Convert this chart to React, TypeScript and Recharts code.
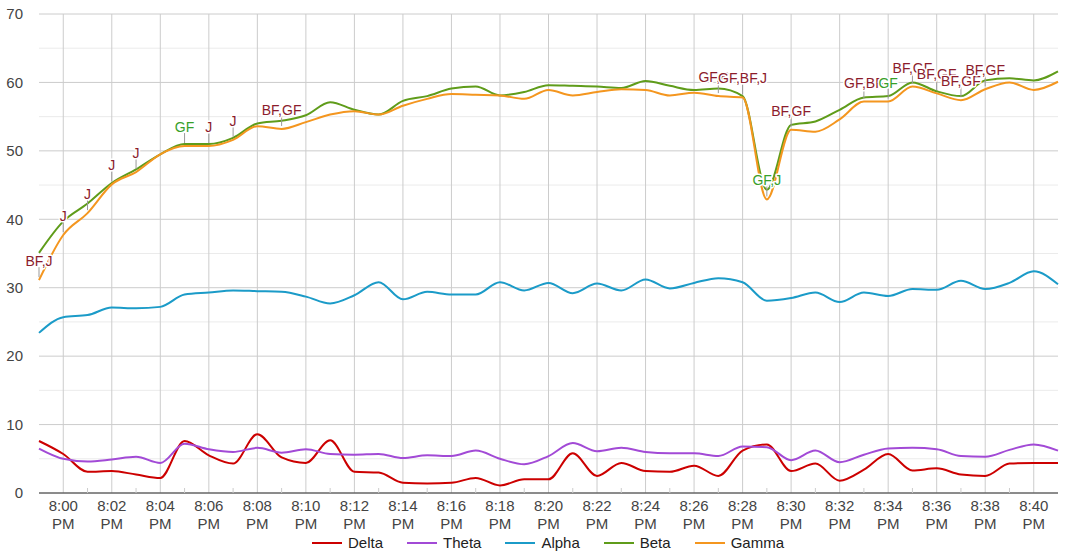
import { LineChart, Line, XAxis, YAxis, CartesianGrid, ReferenceLine, LabelList } from 'recharts';

const times = [
  '7:59 PM', '8:00 PM', '8:01 PM', '8:02 PM', '8:03 PM', '8:04 PM', '8:05 PM', '8:06 PM', '8:07 PM',
  '8:08 PM', '8:09 PM', '8:10 PM', '8:11 PM', '8:12 PM', '8:13 PM', '8:14 PM', '8:15 PM', '8:16 PM',
  '8:17 PM', '8:18 PM', '8:19 PM', '8:20 PM', '8:21 PM', '8:22 PM', '8:23 PM', '8:24 PM', '8:25 PM',
  '8:26 PM', '8:27 PM', '8:28 PM', '8:29 PM', '8:30 PM', '8:31 PM', '8:32 PM', '8:33 PM', '8:34 PM',
  '8:35 PM', '8:36 PM', '8:37 PM', '8:38 PM', '8:39 PM', '8:40 PM', '8:41 PM',
];

const delta = [7.6, 5.7, 3.1, 3.2, 2.7, 2.2, 7.6, 5.5, 4.3, 8.6, 5.2, 4.4, 7.7, 3.1, 3.0, 1.5, 1.4, 1.5, 2.2, 1.1, 2.0, 2.0, 5.8, 2.5, 4.4, 3.2, 3.1, 4.0, 2.5, 6.2, 7.1, 3.2, 4.3, 1.8, 3.4, 5.7, 3.3, 3.6, 2.7, 2.5, 4.3, 4.4, 4.4];
const theta = [6.5, 5.0, 4.6, 4.9, 5.3, 4.4, 7.2, 6.4, 6.0, 6.6, 5.9, 6.4, 5.7, 5.6, 5.7, 5.1, 5.5, 5.4, 6.2, 5.0, 4.2, 5.4, 7.3, 6.1, 6.6, 6.0, 5.8, 5.8, 5.4, 6.8, 6.7, 4.8, 6.2, 4.5, 5.6, 6.5, 6.6, 6.4, 5.4, 5.3, 6.3, 7.1, 6.2];
const alpha = [23.4, 25.7, 26.0, 27.1, 27.0, 27.2, 29.0, 29.3, 29.6, 29.5, 29.4, 28.7, 27.7, 28.9, 30.8, 28.3, 29.4, 29.0, 29.0, 30.8, 29.6, 30.7, 29.2, 30.6, 29.6, 31.2, 29.9, 30.7, 31.4, 30.8, 28.1, 28.5, 29.3, 27.9, 29.3, 28.8, 29.8, 29.7, 31.0, 29.8, 30.7, 32.4, 30.5];
const beta = [35.1, 39.7, 42.3, 45.3, 47.3, 49.5, 51.0, 51.0, 51.9, 54.0, 54.4, 55.2, 57.1, 56.0, 55.3, 57.3, 58.0, 59.1, 59.4, 58.1, 58.6, 59.6, 59.5, 59.4, 59.2, 60.2, 59.5, 58.9, 59.1, 58.0, 44.3, 53.8, 54.3, 56.0, 57.8, 58.0, 60.0, 58.7, 58.0, 60.3, 60.6, 60.3, 61.6];
const gamma = [31.1, 37.7, 40.9, 45.1, 46.9, 49.5, 50.7, 50.7, 51.6, 53.6, 53.2, 54.2, 55.3, 55.8, 55.3, 56.6, 57.6, 58.3, 58.2, 58.1, 57.6, 58.9, 58.1, 58.6, 59.0, 58.9, 58.1, 58.5, 58.0, 57.8, 42.9, 53.1, 52.8, 54.6, 57.2, 57.2, 59.4, 58.4, 57.4, 59.0, 60.0, 58.9, 60.1];

// annotations sitting on the Gamma line
const noteTimes = ['7:59 PM', '8:00 PM', '8:01 PM', '8:02 PM', '8:03 PM', '8:05 PM', '8:06 PM', '8:07 PM', '8:09 PM', '8:27 PM', '8:28 PM', '8:29 PM', '8:30 PM', '8:33 PM', '8:34 PM', '8:35 PM', '8:36 PM', '8:37 PM', '8:38 PM'];
const noteTexts = ['BF,J', 'J', 'J', 'J', 'J', 'GF', 'J', 'J', 'BF,GF', 'GF,BF', 'GF,BF,J', 'GF,J', 'BF,GF', 'GF,BF', 'GF', 'BF,GF', 'BF,GF', 'BF,GF', 'BF,GF'];

const yTicks = [0, 10, 20, 30, 40, 50, 60, 70];
const yMinor = [5, 15, 25, 35, 45, 55, 65];

const series = [
  { key: 'Delta', color: '#cc0000' },
  { key: 'Theta', color: '#a24ad6' },
  { key: 'Alpha', color: '#1b9bc8' },
  { key: 'Beta', color: '#5f9c1a' },
  { key: 'Gamma', color: '#f4961f' },
];

const data = times.map((time, i) => {
  const n = noteTimes.indexOf(time);
  return {
    time,
    Delta: delta[i],
    Theta: theta[i],
    Alpha: alpha[i],
    Beta: beta[i],
    Gamma: gamma[i],
    note: n >= 0 ? noteTexts[n] : undefined,
  };
});

const FONT = '"Liberation Sans", Arial, sans-serif';

const evenTimes = times.filter((t) => parseInt(t.split(' ')[0].split(':')[1], 10) % 2 === 0);

const TimeTick = (props: any) => {
  const { x, y, payload, index } = props;
  const [hm, ap] = String(payload.value).split(' ');
  const minute = parseInt(hm.split(':')[1], 10);
  if (minute % 2 === 1) {
    if (index === 0 || index === times.length - 1) return null;
    return <line x1={x} x2={x} y1={y - 5} y2={y} stroke="#cccccc" />;
  }
  return (
    <g fontFamily={FONT} fontSize={15} fill="#444">
      <text x={x} y={y + 18} textAnchor="middle">{hm}</text>
      <text x={x} y={y + 36} textAnchor="middle">{ap}</text>
    </g>
  );
};

const NoteLabel = (props: any) => {
  const { x, y, value } = props;
  if (!value) return null;
  const green = value.includes('GF') && !value.includes('BF');
  return (
    <g>
      <line x1={x} x2={x} y1={y - 3} y2={y - 13} stroke="#999" />
      <text
        x={x}
        y={y - 14}
        textAnchor="middle"
        fontFamily={FONT}
        fontSize={14}
        fill={green ? '#38a02a' : '#8c1c2c'}
        stroke="#fff"
        strokeWidth={3}
        strokeLinejoin="round"
        paintOrder="stroke"
      >
        {value}
      </text>
    </g>
  );
};

export default function App() {
  return (
    <div style={{ position: 'absolute', left: 0, top: 0, width: 1068, height: 553, background: '#fff' }}>
      <LineChart width={1068} height={553} data={data} margin={{ top: 14, right: 10, bottom: 0, left: 0 }}>
        <CartesianGrid vertical={false} stroke="#cccccc" />
        {yMinor.map((v) => (
          <ReferenceLine key={v} y={v} stroke="#ebebeb" />
        ))}
        {evenTimes.map((t) => (
          <ReferenceLine key={t} x={t} stroke="#cccccc" />
        ))}
        <XAxis
          dataKey="time"
          interval={0}
          height={60}
          tick={TimeTick}
          tickLine={false}
          tickSize={0}
          tickMargin={0}
          axisLine={{ stroke: '#333' }}
        />
        <YAxis
          width={39}
          domain={[0, 70]}
          ticks={yTicks}
          axisLine={false}
          tickLine={false}
          tickMargin={10}
          tick={{ fill: '#444', fontSize: 15, fontFamily: FONT }}
        />
        {series.map((s) => (
          <Line
            key={s.key}
            type="monotone"
            dataKey={s.key}
            stroke={s.color}
            strokeWidth={2}
            dot={false}
            isAnimationActive={false}
          >
            {s.key === 'Gamma' && <LabelList dataKey="note" content={NoteLabel} />}
          </Line>
        ))}
      </LineChart>
      <div
        style={{
          position: 'absolute',
          left: 312,
          top: 534,
          display: 'flex',
          alignItems: 'center',
          fontFamily: FONT,
          fontSize: 15,
          color: '#222',
          lineHeight: '18px',
        }}
      >
        {series.map((s) => (
          <div key={s.key} style={{ display: 'flex', alignItems: 'center', marginRight: 24 }}>
            <span style={{ width: 30, height: 2, background: s.color, display: 'inline-block' }} />
            <span style={{ marginLeft: 6 }}>{s.key}</span>
          </div>
        ))}
      </div>
    </div>
  );
}
